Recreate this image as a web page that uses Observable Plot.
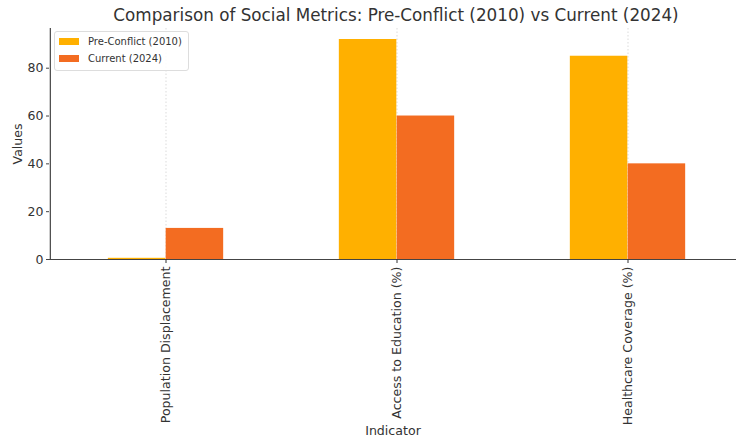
<!DOCTYPE html>
<html>
<head>
<meta charset="utf-8">
<script src="https://cdn.jsdelivr.net/npm/d3@7"></script>
<script src="https://cdn.jsdelivr.net/npm/@observablehq/plot@0.6"></script>
<style>
  html, body { margin: 0; padding: 0; background: #fff; }
  #wrap { position: relative; width: 736px; height: 439px; overflow: hidden; font-family: "DejaVu Sans", sans-serif; }
  #title { position: absolute; left: 49px; width: 694px; top: 5px; text-align: center; font-size: 16.8px; color: #333; white-space: nowrap; }
  #legend { position: absolute; left: 54px; top: 31px; padding: 1px 6px 3px 4px; border: 1px solid #ddd; border-radius: 3px; background: rgba(255,255,255,0.85); font-size: 10px; color: #333; }
  .item { display: flex; align-items: center; height: 17px; }
  .sw { width: 20px; height: 7px; margin-right: 9px; }
</style>
</head>
<body>
<div id="wrap">
  <div id="title">Comparison of Social Metrics: Pre-Conflict (2010) vs Current (2024)</div>
</div>
<script>
const indicators = ["Population Displacement", "Access to Education (%)", "Healthcare Coverage (%)"];
const seriesNames = ["Pre-Conflict (2010)", "Current (2024)"];
const preConflict = [0.5, 92, 85];
const current = [13, 60, 40];
const colors = ["#ffb000", "#f36c21"];
const yTicks = [0, 20, 40, 60, 80];

const rows = [];
indicators.forEach((ind, i) => {
  rows.push({indicator: ind, series: seriesNames[0], value: preConflict[i]});
  rows.push({indicator: ind, series: seriesNames[1], value: current[i]});
});

const W = 736, H = 439;
const left = 49, rightEdge = 743;
const band = (rightEdge - left) / indicators.length;

const plot = Plot.plot({
  width: W,
  height: H,
  marginLeft: left,
  marginRight: 0,
  marginTop: 28,
  marginBottom: 180,
  style: {fontFamily: "DejaVu Sans, sans-serif", fontSize: "12px", color: "#333", background: "transparent"},
  x: {domain: indicators, range: [left, rightEdge], padding: 0},
  y: {domain: [0, 96.6]},
  color: {domain: seriesNames, range: colors},
  marks: [
    Plot.gridX({stroke: "#b0b0b0", strokeOpacity: 0.6, strokeDasharray: "1.5,2", strokeWidth: 0.8}),
    Plot.barY(rows.filter(d => d.series === seriesNames[0]), {
      x: "indicator", y: "value", fill: "series",
      insetLeft: band * 0.25, insetRight: band * 0.5
    }),
    Plot.barY(rows.filter(d => d.series === seriesNames[1]), {
      x: "indicator", y: "value", fill: "series",
      insetLeft: band * 0.5, insetRight: band * 0.25
    }),
    Plot.ruleY([0], {stroke: "#444", strokeWidth: 1.2}),
    Plot.ruleX([0], {x: () => indicators[0], dx: -band / 2, stroke: "#444", strokeWidth: 1.2, y1: 0, y2: 96.6}),
    Plot.axisY({ticks: yTicks, tickSize: 3, tickPadding: 3, label: "Values", labelAnchor: "center", labelArrow: "none", labelOffset: 36, fontSize: 12.5, stroke: "#444"}),
    Plot.axisX({tickRotate: -90, tickSize: 4, tickPadding: 3, label: "Indicator", labelAnchor: "center", labelArrow: "none", labelOffset: 175, fontSize: 12.6})
  ]
});

const wrap = document.getElementById("wrap");
plot.style.position = "absolute";
plot.style.left = "0";
plot.style.top = "0";
wrap.insertBefore(plot, wrap.firstChild);

const legend = document.createElement("div");
legend.id = "legend";
seriesNames.forEach((s, i) => {
  const it = document.createElement("div");
  it.className = "item";
  const sw = document.createElement("div");
  sw.className = "sw";
  sw.style.background = colors[i];
  const tx = document.createElement("span");
  tx.textContent = s;
  it.appendChild(sw);
  it.appendChild(tx);
  legend.appendChild(it);
});
wrap.appendChild(legend);
</script>
</body>
</html>
